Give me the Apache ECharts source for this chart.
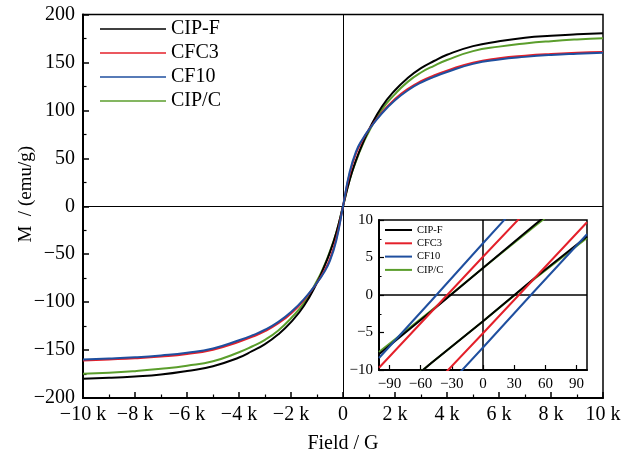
<!DOCTYPE html>
<html>
<head>
<meta charset="utf-8">
<script src="https://cdn.jsdelivr.net/npm/echarts@6/dist/echarts.min.js"></script>
<style>
  html, body { margin: 0; padding: 0; background: #fff; }
  #chart { width: 636px; height: 459px; }
</style>
</head>
<body>
<div id="chart"></div>
<script>
// Sample names and line colours
const seriesNames = ['CIP-F', 'CFC3', 'CF10', 'CIP/C'];
const seriesColors = ['#000000', '#e4202a', '#1f4f9f', '#5b9e2c'];

// Magnetisation curves, field in G, M in emu/g
const fieldMain = [-10000, -9000, -8000, -7000, -6000, -5000, -4000, -3500, -3000, -2500, -2000, -1500,
  -1000, -750, -500, -250, 0, 250, 500, 750, 1000, 1500, 2000, 2500, 3000, 3500, 4000,
  5000, 6000, 7000, 8000, 9000, 10000];
const mCIPF = [-179.8, -179.0, -177.6, -175.5, -171.8, -166.8, -157.8, -151.2, -143.8, -133.8, -120.8, -103.8,
  -79.8, -64.8, -47.8, -26.8, 0, 27, 48, 65, 80, 104, 121, 134, 144, 151.5, 158,
  167, 172, 175.7, 177.8, 179.3, 180.5];
const mCFC3 = [-160.8, -159.8, -158.6, -156.8, -154.1, -149.6, -141.3, -136.3, -130.3, -122.3, -111.8, -97.8,
  -79.8, -68.8, -54.8, -32.8, 0, 33, 55, 69, 80, 98, 112, 122.5, 130.5, 136.5, 141.5,
  149.8, 154.3, 157, 158.8, 160, 160.8];
const mCF10 = [-159.8, -158.9, -157.6, -155.6, -152.8, -148.3, -139.8, -134.8, -128.8, -120.8, -110.3, -96.8,
  -79.8, -69.8, -56.8, -34.8, 0, 35, 57, 70, 80, 97, 110.5, 121, 129, 135, 140,
  148.5, 153, 155.8, 157.8, 159.1, 160.1];
const mCIPC = [-174.6, -173.7, -172.0, -169.6, -166.3, -161.6, -152.3, -146.3, -139.3, -129.8, -116.8, -100.8,
  -77.8, -63.8, -46.8, -26.8, 0, 27, 47, 64, 78, 101, 117, 130, 139.5, 146.5, 152.5,
  161.8, 166.5, 169.8, 172.2, 174, 175.3];

// Low-field loop branches (inset), field in G
const insetField = [-100, -50, 0, 50, 100];
const cipfUpper = [-7.9, -2.2, 3.6, 9.4, 15.0];
const cipfLower = [-15.0, -9.1, -3.5, 2.3, 7.8];
const cfc3Upper = [-9.7, -2.3, 5.1, 12.4, 19.5];
const cfc3Lower = [-19.5, -12.4, -5.1, 2.3, 9.7];
const cf10Upper = [-8.4, -0.8, 6.9, 14.5, 22.0];
const cf10Lower = [-22.0, -14.5, -7.0, 0.6, 8.1];
const cipcUpper = [-7.6, -2.1, 3.6, 9.2, 14.7];
const cipcLower = [-14.8, -9.1, -3.5, 2.2, 7.6];

// Tick labels
const xTickValues = [-10000, -8000, -6000, -4000, -2000, 0, 2000, 4000, 6000, 8000, 10000];
const xTickLabels = ['\u221210 k', '\u22128 k', '\u22126 k', '\u22124 k', '\u22122 k', '0', '2 k', '4 k', '6 k', '8 k', '10 k'];
const yTickValues = [-200, -150, -100, -50, 0, 50, 100, 150, 200];
const yTickLabels = ['\u2212200', '\u2212150', '\u2212100', '\u221250', '0', '50', '100', '150', '200'];
const insetXTicks = [-90, -60, -30, 0, 30, 60, 90];
const insetXLabels = ['\u221290', '\u221260', '\u221230', '0', '30', '60', '90'];
const insetYTicks = [-10, -5, 0, 5, 10];
const insetYLabels = ['\u221210', '\u22125', '0', '5', '10'];

const FONT = '"Liberation Serif", "Times New Roman", serif';
const lookup = (vals, labels) => v => {
  const i = vals.indexOf(v);
  return i >= 0 ? labels[i] : '';
};
const zip = (xs, ys) => xs.map((x, i) => [x, ys[i]]);

const mainData = [mCIPF, mCFC3, mCF10, mCIPC];
const insetData = [[cipfUpper, cipfLower], [cfc3Upper, cfc3Lower], [cf10Upper, cf10Lower], [cipcUpper, cipcLower]];
// drawing order (later on top)
const drawOrder = [3, 0, 1, 2];

const series = [];
drawOrder.forEach((k, n) => {
  const s = {
    name: seriesNames[k],
    type: 'line',
    xAxisIndex: 0,
    yAxisIndex: 0,
    data: zip(fieldMain, mainData[k]),
    symbol: 'none',
    smooth: 0.5,
    color: seriesColors[k],
    lineStyle: { width: 2, color: seriesColors[k] },
    z: 3 + n
  };
  if (n === 0) {
    s.markLine = {
      silent: true,
      symbol: 'none',
      label: { show: false },
      lineStyle: { color: '#000', width: 1, type: 'solid' },
      data: [{ xAxis: 0 }, { yAxis: 0 }]
    };
  }
  series.push(s);
});
drawOrder.forEach((k, n) => {
  insetData[k].forEach((branch, b) => {
    const s = {
      name: seriesNames[k],
      type: 'line',
      xAxisIndex: 1,
      yAxisIndex: 1,
      data: zip(insetField, branch),
      symbol: 'none',
      color: seriesColors[k],
      lineStyle: { width: 2, color: seriesColors[k] },
      z: 3 + n
    };
    if (n === 0 && b === 0) {
      s.markLine = {
        silent: true,
        symbol: 'none',
        label: { show: false },
        lineStyle: { color: '#000', width: 1.5, type: 'solid' },
        data: [{ xAxis: 0 }, { yAxis: 0 }]
      };
    }
    series.push(s);
  });
});

const chart = echarts.init(document.getElementById('chart'), null, { renderer: 'canvas' });
chart.setOption({
  animation: false,
  backgroundColor: '#fff',
  textStyle: { fontFamily: FONT, color: '#000' },
  grid: [
    { left: 83, right: 33, top: 14.5, bottom: 58.5, show: true, borderColor: '#000', borderWidth: 1.5 },
    { left: 379, top: 220, width: 208, height: 150, show: true, backgroundColor: '#fff', borderColor: '#000', borderWidth: 1.5 }
  ],
  legend: [
    {
      data: seriesNames,
      orient: 'vertical',
      left: 100,
      top: 19,
      padding: 0,
      icon: 'rect',
      itemWidth: 66,
      itemHeight: 1.6,
      itemGap: 4,
      textStyle: { fontFamily: FONT, fontSize: 20, lineHeight: 20, color: '#000' }
    },
    {
      data: seriesNames,
      orient: 'vertical',
      left: 385,
      top: 224,
      padding: 0,
      icon: 'rect',
      itemWidth: 27,
      itemHeight: 2,
      itemGap: 1.3,
      textStyle: { fontFamily: FONT, fontSize: 10.5, lineHeight: 12, color: '#000' }
    }
  ],
  xAxis: [
    {
      type: 'value', gridIndex: 0, min: -10000, max: 10000, interval: 2000,
      name: 'Field / G', nameLocation: 'middle', nameGap: 36,
      nameTextStyle: { fontFamily: FONT, fontSize: 20, color: '#000' },
      axisLine: { show: true, onZero: false, lineStyle: { color: '#000', width: 2 } },
      axisTick: { show: true, inside: true, length: 6, lineStyle: { color: '#000', width: 1.5 } },
      minorTick: { show: true, splitNumber: 2, length: 3.5, lineStyle: { color: '#000', width: 1.2 } },
      splitLine: { show: false },
      axisLabel: { formatter: lookup(xTickValues, xTickLabels), fontFamily: FONT, fontSize: 20, color: '#000', margin: 7 }
    },
    {
      type: 'value', gridIndex: 1, min: -100, max: 100,
      axisLine: { show: true, onZero: false, lineStyle: { color: '#000', width: 2 } },
      axisTick: { show: true, inside: true, length: 5, customValues: insetXTicks, lineStyle: { color: '#000', width: 1.2 } },
      splitLine: { show: false },
      axisLabel: { customValues: insetXTicks, formatter: lookup(insetXTicks, insetXLabels), fontFamily: FONT, fontSize: 15, color: '#000', margin: 7 }
    }
  ],
  yAxis: [
    {
      type: 'value', gridIndex: 0, min: -200, max: 200, interval: 50,
      name: 'M  / (emu/g)', nameLocation: 'middle', nameGap: 47, nameMoveOverlap: false,
      nameTextStyle: { fontFamily: FONT, fontSize: 19, color: '#000', padding: [0, 0, 0, 24] },
      axisLine: { show: true, onZero: false, lineStyle: { color: '#000', width: 2 } },
      axisTick: { show: true, inside: true, length: 6, lineStyle: { color: '#000', width: 1.5 } },
      minorTick: { show: true, splitNumber: 2, length: 3.5, lineStyle: { color: '#000', width: 1.2 } },
      splitLine: { show: false },
      axisLabel: { formatter: lookup(yTickValues, yTickLabels), fontFamily: FONT, fontSize: 20, color: '#000', margin: 8 }
    },
    {
      type: 'value', gridIndex: 1, min: -10, max: 10, interval: 5,
      axisLine: { show: true, onZero: false, lineStyle: { color: '#000', width: 2 } },
      axisTick: { show: true, inside: true, length: 5, lineStyle: { color: '#000', width: 1.2 } },
      minorTick: { show: true, splitNumber: 2, length: 2.5, lineStyle: { color: '#000', width: 1 } },
      splitLine: { show: false },
      axisLabel: { formatter: lookup(insetYTicks, insetYLabels), fontFamily: FONT, fontSize: 15, color: '#000', margin: 6 }
    }
  ],
  series: series
});
</script>
</body>
</html>
